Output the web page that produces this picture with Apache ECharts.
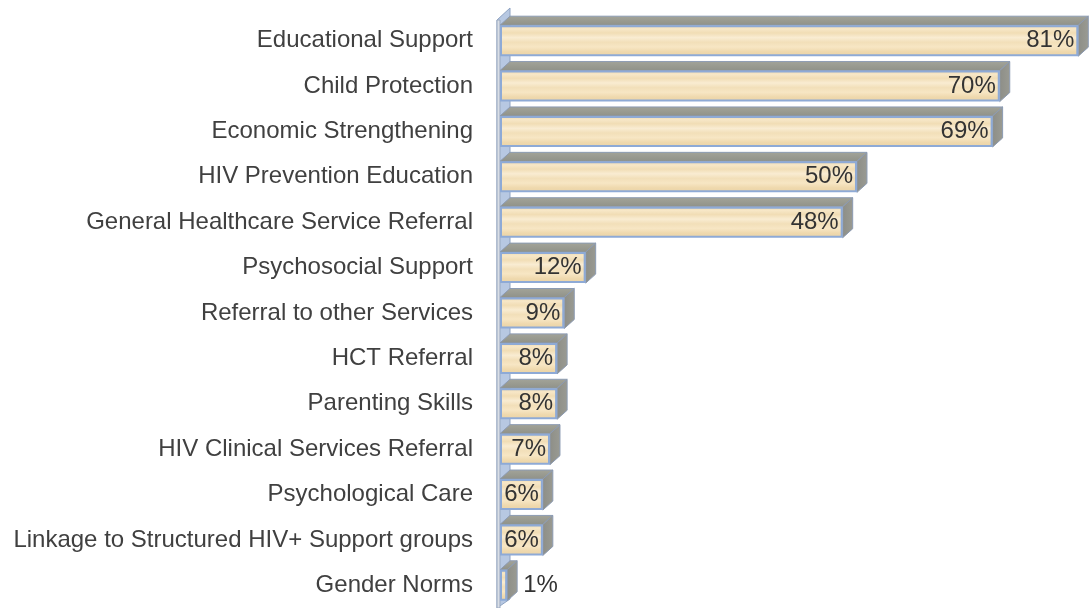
<!DOCTYPE html>
<html>
<head>
<meta charset="utf-8">
<script src="https://cdn.jsdelivr.net/npm/echarts@6/dist/echarts.min.js"></script>
<style>
  html, body { margin: 0; padding: 0; background: #ffffff; }
  #chart { width: 1089px; height: 608px; }
</style>
</head>
<body>
<div id="chart"></div>
<script>
// Services received, share of respondents (%)
const categories = [
  'Educational Support',
  'Child Protection',
  'Economic Strengthening',
  'HIV Prevention Education',
  'General Healthcare Service Referral',
  'Psychosocial Support',
  'Referral to other Services',
  'HCT Referral',
  'Parenting Skills',
  'HIV Clinical Services Referral',
  'Psychological Care',
  'Linkage to Structured HIV+ Support groups',
  'Gender Norms'
];
const values = [81, 70, 69, 50, 48, 12, 9, 8, 8, 7, 6, 6, 1];

// bar thickness and the 3D depth offset of the extruded faces
const BAR_H = 31;
const DX = 10;
const DY = 9;
const FONT = 'Liberation Sans';

const chart = echarts.init(document.getElementById('chart'), null, { renderer: 'canvas' });

// wood-grain like horizontal streaks on the front face
const frontFill = new echarts.graphic.LinearGradient(0, 0, 0, 1, [
  { offset: 0.00, color: '#efdab0' },
  { offset: 0.12, color: '#f7e7c7' },
  { offset: 0.25, color: '#f1ddb5' },
  { offset: 0.40, color: '#f9ecd2' },
  { offset: 0.55, color: '#f2dfb9' },
  { offset: 0.70, color: '#f7e6c4' },
  { offset: 0.85, color: '#efd9ae' },
  { offset: 1.00, color: '#ead3a6' }
]);
const topFill = new echarts.graphic.LinearGradient(0, 0, 0, 1, [
  { offset: 0, color: '#a3a499' },
  { offset: 1, color: '#8f9188' }
]);
const sideFill = new echarts.graphic.LinearGradient(0, 0, 1, 0, [
  { offset: 0, color: '#8d8e87' },
  { offset: 1, color: '#9a9b93' }
]);

// top and right faces of each bar
function renderDepth(params, api) {
  const idx = api.value(1);
  const end = api.coord([api.value(0), idx]);
  const start = api.coord([0, idx]);
  const top = end[1] - BAR_H / 2;
  const bot = end[1] + BAR_H / 2;
  return {
    type: 'group',
    children: [
      {
        type: 'polygon',
        shape: { points: [[start[0], top], [start[0] + DX, top - DY], [end[0] + DX, top - DY], [end[0], top]] },
        style: { fill: topFill, stroke: '#8c9bb3', lineWidth: 1 }
      },
      {
        type: 'polygon',
        shape: { points: [[end[0], top], [end[0] + DX, top - DY], [end[0] + DX, bot - DY], [end[0], bot]] },
        style: { fill: sideFill, stroke: '#8c9bb3', lineWidth: 1 }
      }
    ]
  };
}

// the back wall standing on the zero line
function renderWall(params, api) {
  const cs = params.coordSys;
  const x = api.coord([0, 0])[0] - 3;
  const y0 = cs.y;
  const y1 = cs.y + cs.height;
  return {
    type: 'group',
    children: [
      {
        type: 'polygon',
        shape: { points: [[x, y0 + 2], [x + DX + 3, y0 - DY - 1], [x + DX + 3, y1 - DY], [x, y1]] },
        style: { fill: '#b7c8e2', stroke: '#8ea3c3', lineWidth: 1 }
      },
      {
        type: 'rect',
        shape: { x: x, y: y0 + 2, width: 3, height: y1 - y0 - 2 },
        style: { fill: '#d9dee6', stroke: '#9aa9c0', lineWidth: 1 }
      }
    ]
  };
}

const depthData = values.map((v, i) => [v, i]);
const barData = values.map(v => v < 3
  ? { value: v, label: { position: 'right', distance: 16 } }
  : v);

chart.setOption({
  backgroundColor: '#ffffff',
  animation: false,
  grid: { left: 500, top: 18, right: 0, height: 592 },
  xAxis: {
    type: 'value', min: 0, max: 82.5, show: false
  },
  yAxis: {
    type: 'category',
    data: categories,
    inverse: true,
    axisLine: { show: false },
    axisTick: { show: false },
    splitLine: { show: false },
    axisLabel: { fontFamily: FONT, fontSize: 24, color: '#404040', margin: 27 }
  },
  series: [
    {
      type: 'custom',
      renderItem: renderWall,
      data: [[0, 0]],
      encode: { x: 0, y: 1 },
      z: 1,
      silent: true
    },
    {
      type: 'custom',
      renderItem: renderDepth,
      data: depthData,
      encode: { x: 0, y: 1 },
      z: 2,
      silent: true
    },
    {
      type: 'bar',
      data: barData,
      barWidth: BAR_H,
      z: 3,
      itemStyle: { color: frontFill, borderColor: '#8eaad6', borderWidth: 2 },
      label: {
        show: true,
        position: 'insideRight',
        distance: 4,
        formatter: p => p.value + '%',
        fontFamily: FONT,
        fontSize: 24,
        color: '#333333'
      }
    }
  ]
});
</script>
</body>
</html>
